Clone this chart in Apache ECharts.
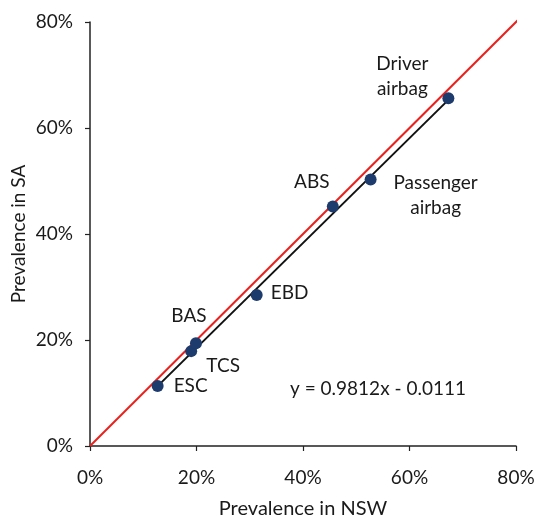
<!DOCTYPE html>
<html>
<head>
<meta charset="utf-8">
<script src="https://cdn.jsdelivr.net/npm/echarts@6/dist/echarts.min.js"></script>
<style>html,body{margin:0;padding:0;background:#fff}#c{width:536px;height:521px}</style>
</head>
<body>
<div id="c"></div>
<script>
// Data (percent)
const names = ['ESC', 'TCS', 'BAS', 'EBD', 'ABS', 'Passenger\nairbag', 'Driver\nairbag'];
const nsw = [12.7, 19.0, 19.9, 31.3, 45.6, 52.7, 67.3];
const sa = [11.3, 17.9, 19.4, 28.5, 45.2, 50.3, 65.6];
const equalityX = [0, 81];
const equalityY = [0, 81];
const regressionX = [12.7, 67.3];
const regressionY = [11.3, 65.3];
const axisTicks = [0, 20, 40, 60, 80];
const equationText = 'y = 0.9812x - 0.0111';

const labelOffsets = {
  'ESC': [33, 0],
  'TCS': [32, 15],
  'BAS': [-7, -27],
  'EBD': [33, -2],
  'ABS': [-21, -25],
  'Passenger\nairbag': [65, 16],
  'Driver\nairbag': [-46, -22]
};

const FONT = 'Lato';
const TXT = '#1a1a1a';

const chart = echarts.init(document.getElementById('c'), null, {renderer: 'canvas'});
chart.setOption({
  animation: false,
  backgroundColor: '#fff',
  grid: {left: 90, right: 20, top: 22, bottom: 75, outerBoundsMode: 'none', containLabel: false},
  xAxis: {
    type: 'value', min: axisTicks[0], max: axisTicks[axisTicks.length - 1], interval: 20,
    name: 'Prevalence in NSW', nameLocation: 'middle', nameGap: 53, nameMoveOverlap: false,
    nameTextStyle: {fontFamily: FONT, fontSize: 20, color: TXT},
    axisLine: {lineStyle: {color: '#222', width: 1.5}},
    axisTick: {show: true, inside: false, length: 5, lineStyle: {color: '#222', width: 1.2}},
    axisLabel: {formatter: '{value}%', fontFamily: FONT, fontSize: 19, color: TXT, margin: 22},
    splitLine: {show: false}
  },
  yAxis: {
    type: 'value', min: axisTicks[0], max: axisTicks[axisTicks.length - 1], interval: 20,
    name: 'Prevalence in SA', nameLocation: 'middle', nameGap: 62, nameMoveOverlap: false,
    nameTextStyle: {fontFamily: FONT, fontSize: 19, color: TXT},
    axisLine: {show: true, lineStyle: {color: '#222', width: 1.5}},
    axisTick: {show: true, inside: false, length: 5, lineStyle: {color: '#222', width: 1.2}},
    axisLabel: {formatter: '{value}%', fontFamily: FONT, fontSize: 19, color: TXT, margin: 17},
    splitLine: {show: false}
  },
  graphic: [{
    type: 'text', left: 290, top: 379,
    style: {text: equationText, font: '19px ' + FONT, fill: TXT}
  }],
  series: [
    {
      type: 'line', clip: false, symbol: 'none', z: 2,
      data: equalityX.map((x, i) => [x, equalityY[i]]),
      lineStyle: {color: '#e8231f', width: 2}
    },
    {
      type: 'line', symbol: 'none', z: 3,
      data: regressionX.map((x, i) => [x, regressionY[i]]),
      lineStyle: {color: '#111', width: 2}
    },
    {
      type: 'scatter', z: 4, symbolSize: 12,
      itemStyle: {color: '#1d3b6c', opacity: 1},
      data: names.map((n, i) => ({
        name: n, value: [nsw[i], sa[i]],
        label: {
          show: true, position: 'inside', offset: labelOffsets[n],
          formatter: '{b}', align: 'center', verticalAlign: 'middle',
          fontFamily: FONT, fontSize: 19, color: TXT, lineHeight: 25
        }
      }))
    }
  ]
});
</script>
</body>
</html>
